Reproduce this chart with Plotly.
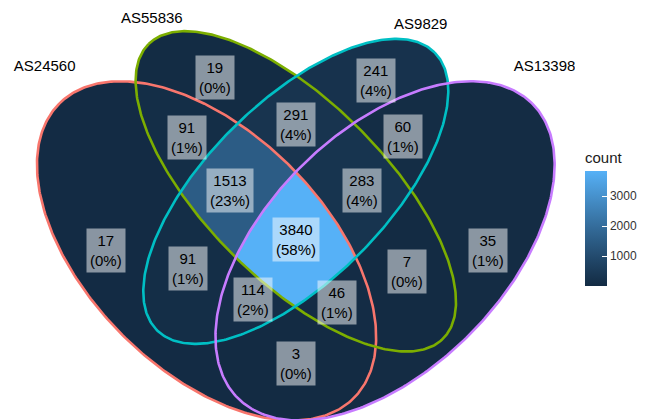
import numpy as np
import plotly.graph_objects as go

# ---------------- data ----------------
set_names = ["AS24560", "AS55836", "AS9829", "AS13398"]
set_colors = ["#F8766D", "#7CAE00", "#00BFC4", "#C77CFF"]
# regions expressed as membership of sets (0=AS24560,1=AS55836,2=AS9829,3=AS13398)
region_sets = [(0,), (1,), (2,), (3,),
               (0, 1), (0, 2), (0, 3), (1, 2), (1, 3), (2, 3),
               (0, 1, 2), (0, 1, 3), (0, 2, 3), (1, 2, 3),
               (0, 1, 2, 3)]
region_counts = [17, 19, 241, 35,
                 91, 91, 3, 291, 7, 60,
                 1513, 46, 114, 283,
                 3840]

# ellipse shapes (x, y, a, b, rotation deg) - ggVennDiagram 4d layout
ellipses = [(0.35, 0.47, 0.35, 0.20, 135),
            (0.50, 0.57, 0.35, 0.15, 135),
            (0.50, 0.57, 0.33, 0.15, 45),
            (0.65, 0.47, 0.35, 0.20, 45)]
set_label_pos = [(0.078, 0.778), (0.258, 0.859), (0.710, 0.849), (0.918, 0.778)]

# ---------------- geometry ----------------
S = 595.0  # px per unit
x0 = 1.7 / S
x1 = x0 + 575 / S
ytop = 0.839 + 31.3 / S
ybot = ytop - 420 / S


def inside(e, X, Y):
    cx, cy, a, b, r = e
    t = np.deg2rad(r)
    dx, dy = X - cx, Y - cy
    u = dx * np.cos(t) + dy * np.sin(t)
    v = -dx * np.sin(t) + dy * np.cos(t)
    return (u / a) ** 2 + (v / b) ** 2 <= 1


def region_masks(X, Y):
    masks = [inside(e, X, Y) for e in ellipses]
    out = []
    for sets in region_sets:
        m = np.ones(X.shape, bool)
        for k in range(4):
            m &= masks[k] if k in sets else ~masks[k]
        out.append(m)
    return out

xs = np.arange(x0 + 0.5 / S, x1, 1 / S)
ys = np.arange(ybot + 0.5 / S, ytop, 1 / S)
X, Y = np.meshgrid(xs, ys)
Z = np.full(X.shape, np.nan)
for m, c in zip(region_masks(X, Y), region_counts):
    Z[m] = c

# label positions: interior point (scan line through middle of the region's y extent,
# midpoint of the widest section) as sf::st_point_on_surface does
gx = np.arange(-0.05, 1.05, 1 / 1000)
gy = np.arange(0.05, 0.95, 1 / 1000)
GX, GY = np.meshgrid(gx, gy)
fine_x = np.arange(-0.05, 1.05, 1e-4)
label_pos = []
for idx, m in enumerate(region_masks(GX, GY)):
    yy = GY[m]
    ymid = (yy.min() + yy.max()) / 2
    row = region_masks(fine_x, np.full(fine_x.shape, ymid))[idx]
    d = np.diff(np.concatenate([[0], row.astype(int), [0]]))
    starts, ends = np.where(d == 1)[0], np.where(d == -1)[0]
    k = np.argmax(ends - starts)
    label_pos.append(((fine_x[starts[k]] + fine_x[ends[k] - 1]) / 2, ymid))

total = sum(region_counts)

# ---------------- colour scale (Lab interpolation like ggplot) ----------------
def hex2rgb(h):
    h = h.lstrip('#')
    return np.array([int(h[i:i + 2], 16) / 255 for i in (0, 2, 4)])


def rgb2lab(c):
    c = np.where(c > 0.04045, ((c + 0.055) / 1.055) ** 2.4, c / 12.92)
    M = np.array([[0.4124, 0.3576, 0.1805], [0.2126, 0.7152, 0.0722], [0.0193, 0.1192, 0.9505]])
    xyz = M @ c / np.array([0.95047, 1.0, 1.08883])
    f = np.where(xyz > 0.008856, np.cbrt(xyz), 7.787 * xyz + 16 / 116)
    return np.array([116 * f[1] - 16, 500 * (f[0] - f[1]), 200 * (f[1] - f[2])])


def lab2rgb(lab):
    L, a, b = lab
    fy = (L + 16) / 116
    fx = fy + a / 500
    fz = fy - b / 200
    f = np.array([fx, fy, fz])
    xyz = np.where(f ** 3 > 0.008856, f ** 3, (f - 16 / 116) / 7.787) * np.array([0.95047, 1.0, 1.08883])
    Mi = np.array([[3.2406, -1.5372, -0.4986], [-0.9689, 1.8758, 0.0415], [0.0557, -0.2040, 1.0570]])
    c = Mi @ xyz
    c = np.where(c > 0.0031308, 1.055 * np.clip(c, 0, None) ** (1 / 2.4) - 0.055, 12.92 * c)
    c = np.clip(c, 0, 1)
    return "rgb(%d,%d,%d)" % tuple(np.round(c * 255))

low, high = rgb2lab(hex2rgb("#132B43")), rgb2lab(hex2rgb("#56B1F7"))
colorscale = [[t, lab2rgb(low + (high - low) * t)] for t in np.linspace(0, 1, 11)]

# ---------------- figure ----------------
fig = go.Figure()
fig.add_trace(go.Heatmap(
    x=xs, y=ys, z=Z, zmin=min(region_counts), zmax=max(region_counts),
    colorscale=colorscale, hoverinfo="skip", zsmooth=False,
    colorbar=dict(
        title=dict(text="count", side="top", font=dict(size=15, color="#1a1a1a")),
        xref="container", yref="container", x=585 / 646, xanchor="left",
        y=1 - 217.5 / 420, yanchor="middle", lenmode="pixels", len=137,
        thickness=22, outlinewidth=0, tickvals=[1000, 2000, 3000],
        ticks="inside", ticklen=5, tickcolor="white", tickwidth=1,
        tickfont=dict(size=12, color="#333333"), xpad=0, ypad=0,
    ),
))

th = np.linspace(0, 2 * np.pi, 400)
for (cx, cy, a, b, r), col in zip(ellipses, set_colors):
    t = np.deg2rad(r)
    ex = cx + a * np.cos(th) * np.cos(t) - b * np.sin(th) * np.sin(t)
    ey = cy + a * np.cos(th) * np.sin(t) + b * np.sin(th) * np.cos(t)
    fig.add_trace(go.Scatter(x=ex, y=ey, mode="lines", line=dict(color=col, width=2.6),
                             hoverinfo="skip", showlegend=False))

fig.add_trace(go.Scatter(
    x=[p[0] for p in set_label_pos], y=[p[1] for p in set_label_pos],
    mode="text", text=set_names, textfont=dict(size=15, color="black"),
    cliponaxis=True, hoverinfo="skip", showlegend=False))

for (cx, cy), c in zip(label_pos, region_counts):
    fig.add_annotation(x=cx, y=cy, text="%d<br>(%d%%)" % (c, round(c / total * 100)),
                       showarrow=False, bgcolor="rgba(255,255,255,0.5)", borderpad=3,
                       font=dict(size=15, color="black"))

fig.update_layout(
    width=646, height=420, margin=dict(l=0, r=0, t=0, b=0, autoexpand=False),
    paper_bgcolor="white", plot_bgcolor="white",
    font=dict(family="Liberation Sans, Arial, sans-serif"),
    xaxis=dict(range=[x0, x1], domain=[0, 575 / 646], visible=False, fixedrange=True),
    yaxis=dict(range=[ybot, ytop], domain=[0, 1], visible=False, fixedrange=True),
    showlegend=False,
)
fig.write_html("out.html", config={"displayModeBar": False},
               post_script="document.body.style.margin='0';")
